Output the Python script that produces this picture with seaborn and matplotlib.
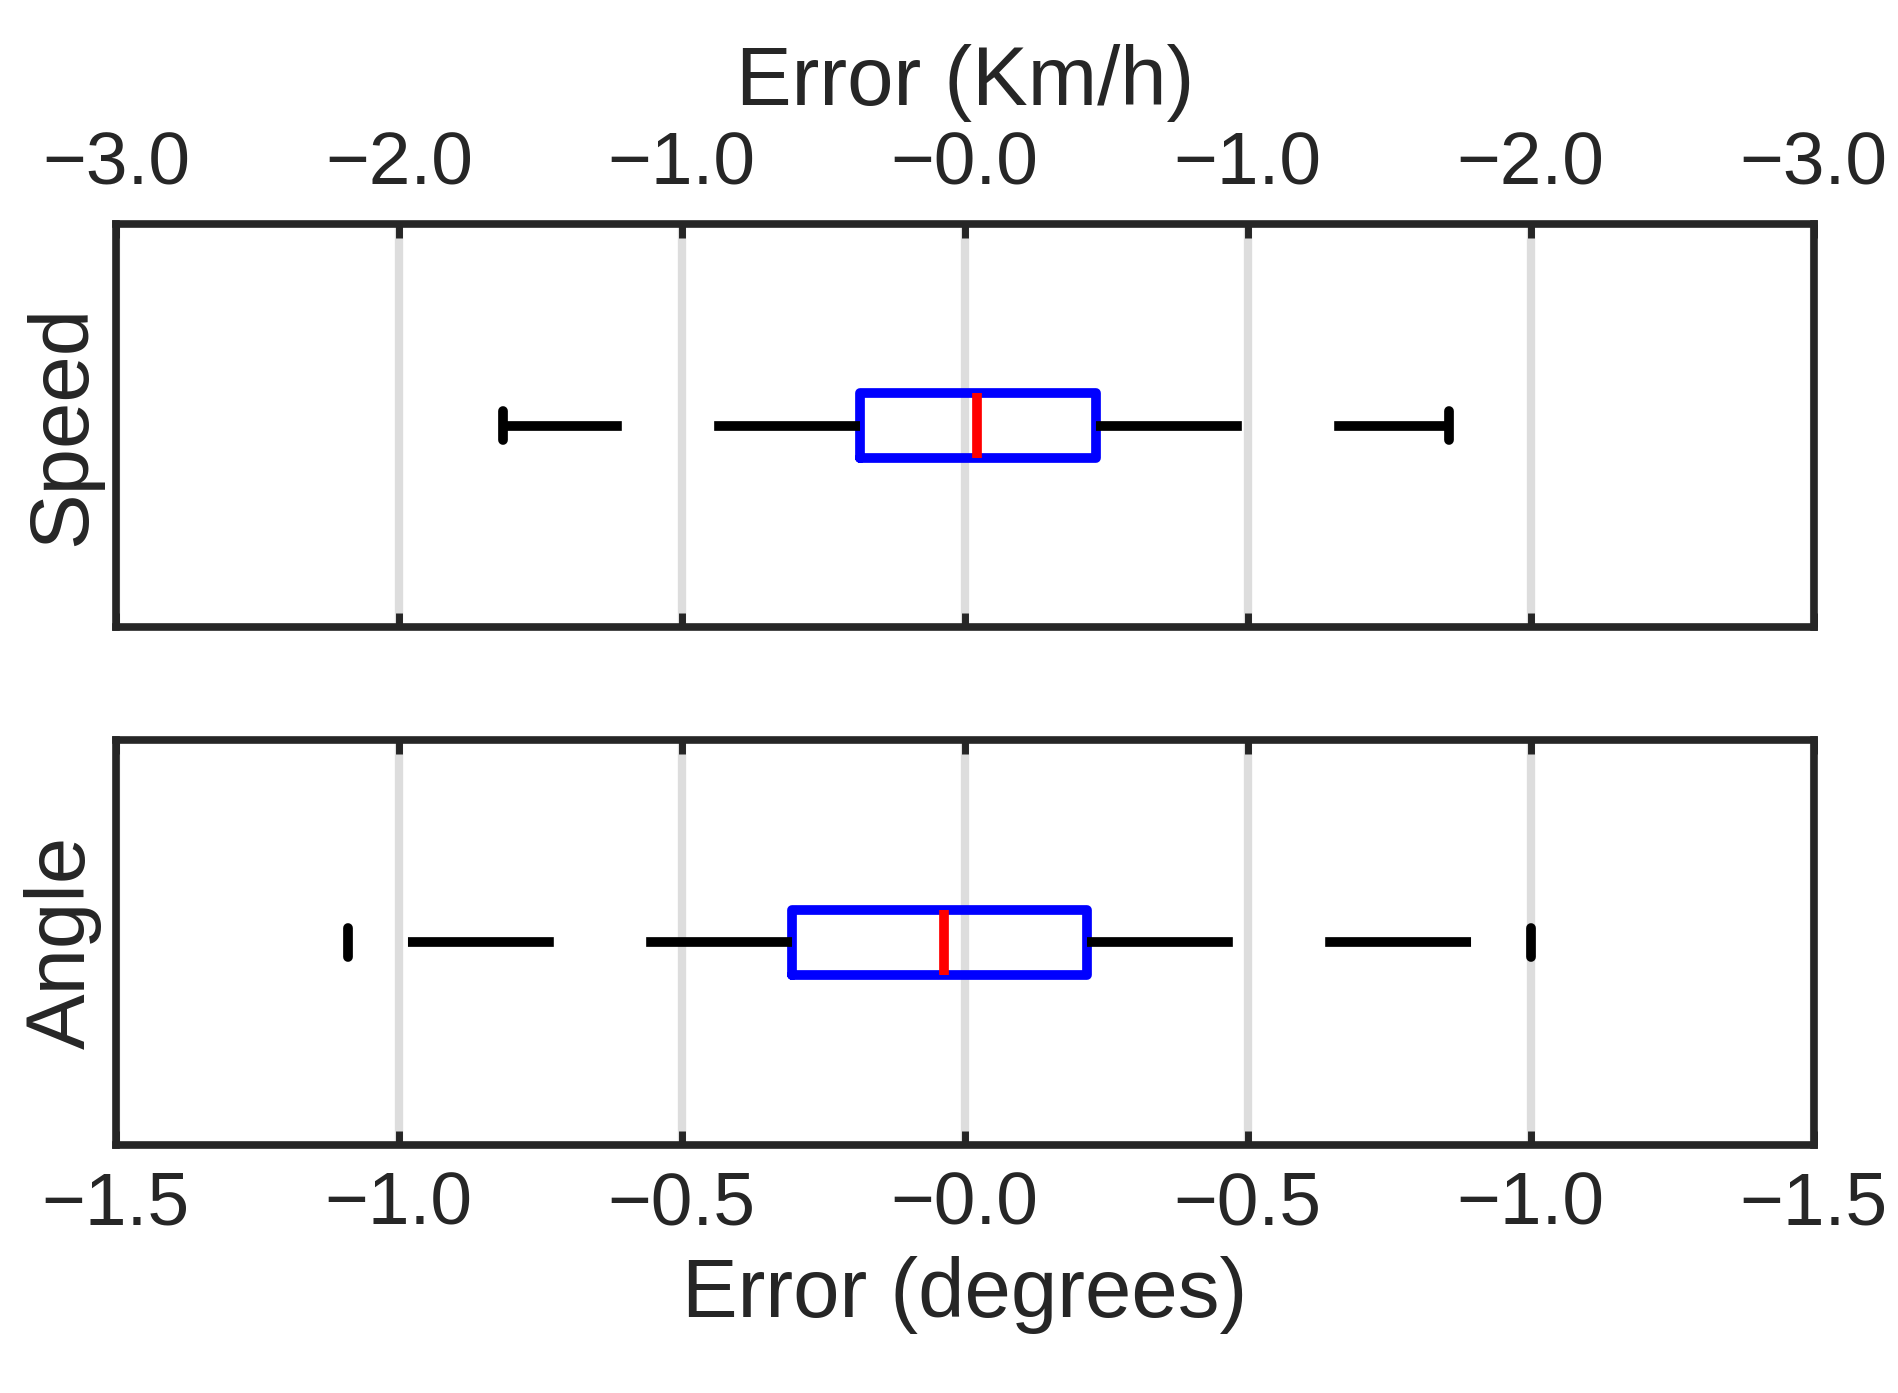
import numpy as np
import seaborn as sns
import matplotlib.pyplot as plt
from matplotlib.ticker import FuncFormatter

# box statistics (axis units)
names = ["Speed", "Angle"]
whislo = [-1.63, -1.09]
q1 = [-0.37, -0.305]
med = [0.043, -0.037]
q3 = [0.465, 0.217]
whishi = [1.71, 1.0]
xlims = [3.0, 1.5]
tick_steps = [1.0, 0.5]
xlabels = ["Error (Km/h)", "Error (degrees)"]

sns.set_style("white")
plt.rcParams['font.family'] = ['Arial', 'Liberation Sans', 'DejaVu Sans']

fig = plt.figure(figsize=(18.99, 13.93), dpi=100)
ax_top = fig.add_axes([0.061, 0.55, 0.894, 0.289])
ax_bot = fig.add_axes([0.061, 0.178, 0.894, 0.291])

fmt = FuncFormatter(lambda v, p: "\u2212%.1f" % abs(v))
for i, ax in enumerate([ax_top, ax_bot]):
    stats = [dict(whislo=whislo[i], q1=q1[i], med=med[i], q3=q3[i], whishi=whishi[i], fliers=[])]
    ax.bxp(stats, vert=False, widths=0.16, capwidths=0.07, showfliers=False,
           boxprops=dict(color="blue", linewidth=7),
           medianprops=dict(color="red", linewidth=7),
           whiskerprops=dict(color="black", linewidth=7, linestyle=(0, (15, 9.5))),
           capprops=dict(color="black", linewidth=7))
    lim = xlims[i]
    ax.set_xlim(-lim, lim)
    ax.set_ylim(0.5, 1.5)
    ax.set_xticks(np.arange(-lim, lim + 1e-9, tick_steps[i]))
    ax.xaxis.set_major_formatter(fmt)
    ax.set_yticks([])
    ax.tick_params(axis="y", left=False, right=False)
    ax.set_ylabel(names[i], fontsize=60, color="#262626", labelpad=10)
    ax.grid(axis="x", color="#dddddd", linewidth=6)
    ax.set_axisbelow(True)
    for s in ax.spines.values():
        s.set_color("#262626")
        s.set_linewidth(5.5)
    ax.tick_params(axis="x", direction="in", length=10, width=5, color="#262626",
                   labelsize=54, labelcolor="#262626", pad=18, top=True, bottom=True)
    ax.set_xlabel(xlabels[i], fontsize=60, color="#262626", labelpad=12)

ax_top.xaxis.set_label_position("top")
ax_top.xaxis.tick_top()
ax_top.tick_params(axis="x", bottom=True)
ax_top.xaxis.labelpad = 18

fig.savefig("out.png", dpi=100, facecolor="white")
